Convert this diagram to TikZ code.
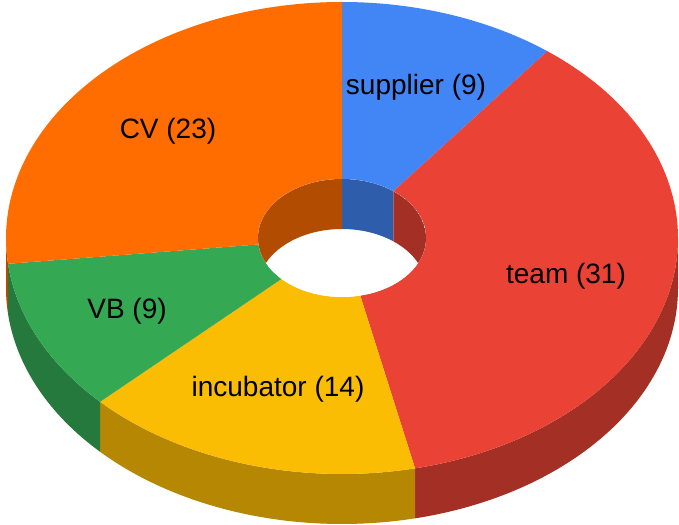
\documentclass[tikz,border=0pt]{standalone}
\usepackage{fontspec}
\setmainfont{Liberation Sans}

\definecolor{supplierblue}{HTML}{4285F4}
\definecolor{teamred}{HTML}{EA4335}
\definecolor{incubatoryellow}{HTML}{FBBC04}
\definecolor{vbgreen}{HTML}{34A853}
\definecolor{cvorange}{HTML}{FF6D01}

% top face of one slice: start angle, end angle, colour
\newcommand{\slicetop}[3]{%
	\fill[#3]	({336*cos(#1)},{236*sin(#1)}) arc[start angle=#1, end angle=#2, x radius=336, y radius=236]
				-- ({84*cos(#2)},{59*sin(#2)}) arc[start angle=#2, end angle=#1, x radius=84, y radius=59] -- cycle;}
% outer side wall of one slice
\newcommand{\sliceside}[3]{%
	\fill[#3]	({336*cos(#1)},{236*sin(#1)}) arc[start angle=#1, end angle=#2, x radius=336, y radius=236]
				-- ++(0,-50) arc[start angle=#2, end angle=#1, x radius=336, y radius=236] -- cycle;}
% inner wall of one slice, seen through the hole
\newcommand{\slicewall}[3]{%
	\fill[#3]	({84*cos(#1)},{59*sin(#1)}) arc[start angle=#1, end angle=#2, x radius=84, y radius=59]
				-- ++(0,-50) arc[start angle=#2, end angle=#1, x radius=84, y radius=59] -- cycle;}

\begin{document}
\begin{tikzpicture}[x=1pt, y=1pt,
		slicelabel/.style={font=\fontsize{28}{33}\selectfont, anchor=base, inner sep=0pt}]
	\fill[white]	(0,0) rectangle (679,-524);
	\useasboundingbox (0,0) rectangle (679,-524);

	\begin{scope}[shift={(342,-238)}]
		% side walls
		\sliceside{0}{-77.442}{teamred!70!black}
		\sliceside{-77.442}{-136.047}{incubatoryellow!72!black}
		\sliceside{-136.047}{-173.721}{vbgreen!72!black}
		\sliceside{-173.721}{-180}{cvorange!70!black}

		% top faces
		\slicetop{90}{52.326}{supplierblue}
		\slicetop{52.326}{-77.442}{teamred}
		\slicetop{-77.442}{-136.047}{incubatoryellow}
		\slicetop{-136.047}{-173.721}{vbgreen}
		\slicetop{-173.721}{-270}{cvorange}

		% hole
		\begin{scope}
			\clip (0,0) ellipse[x radius=84, y radius=59];
			\fill[white]	(-90,-70) rectangle (90,70);
			\slicewall{180}{90}{cvorange!70!black}
			\slicewall{90}{52.326}{supplierblue!70!black}
			\slicewall{52.326}{0}{teamred!70!black}
		\end{scope}
	\end{scope}

	\node[slicelabel] (supplier)	at (416,-95)	{supplier (9)};
	\node[slicelabel] (team)		at (566,-283)	{team (31)};
	\node[slicelabel] (incubator)	at (278,-396)	{incubator (14)};
	\node[slicelabel] (vb)			at (127,-318)	{VB (9)};
	\node[slicelabel] (cv)			at (168,-138)	{CV (23)};
\end{tikzpicture}
\end{document}
